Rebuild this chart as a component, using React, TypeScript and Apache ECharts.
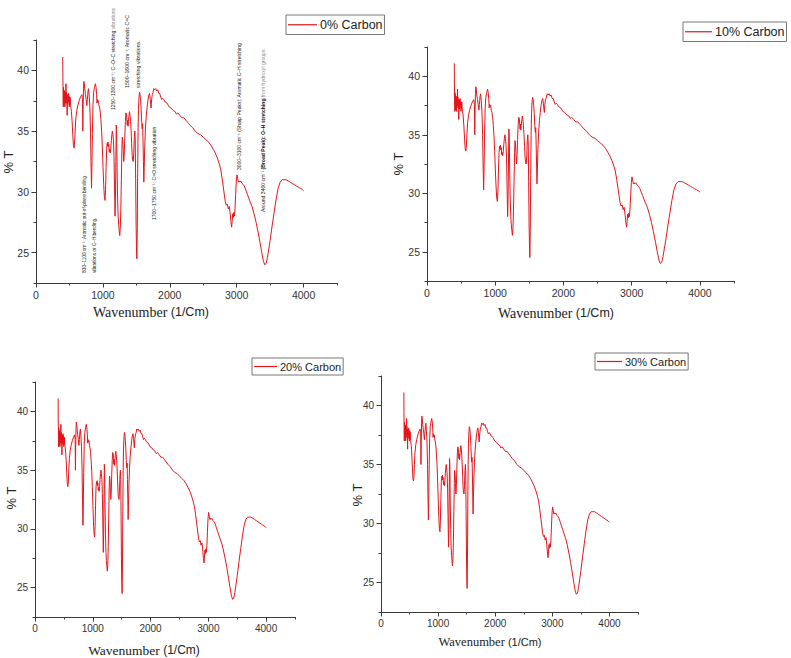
import { useEffect, useRef } from 'react';
import * as echarts from 'echarts';

// FTIR spectrum: wavenumber (1/cm) and transmittance (%T)
const wavenumber = [
  400, 402, 405, 408, 411, 414, 417, 420, 423, 426, 429, 432, 435, 438, 441, 444, 448, 451, 454, 457,
  460, 463, 466, 469, 472, 475, 478, 481, 485, 489, 493, 497, 501, 505, 510, 515, 520, 530, 540, 550,
  560, 568, 576, 585, 595, 610, 625, 645, 665, 685, 695, 700, 704, 710, 716, 722, 730, 740, 750, 760,
  768, 778, 786, 795, 805, 815, 822, 830, 836, 843, 852, 862, 875, 888, 898, 906, 912, 918, 926, 934,
  942, 952, 962, 972, 982, 992, 1002, 1012, 1022, 1032, 1040, 1048, 1056, 1064, 1070, 1076, 1082, 1088, 1095, 1102,
  1110, 1118, 1126, 1134, 1142, 1150, 1158, 1166, 1174, 1182, 1188, 1194, 1200, 1206, 1212, 1220, 1228, 1236, 1244, 1252,
  1260, 1268, 1276, 1284, 1290, 1297, 1304, 1312, 1320, 1328, 1336, 1344, 1352, 1358, 1364, 1370, 1376, 1382, 1390, 1398,
  1406, 1414, 1422, 1430, 1438, 1446, 1454, 1462, 1470, 1478, 1484, 1490, 1496, 1502, 1508, 1514, 1520, 1526, 1532, 1540,
  1548, 1556, 1564, 1572, 1580, 1588, 1594, 1600, 1606, 1612, 1618, 1626, 1636, 1648, 1660, 1672, 1684, 1696, 1706, 1714,
  1720, 1728, 1738, 1750, 1762, 1775, 1790, 1805, 1820, 1835, 1850, 1865, 1880, 1895, 1910, 1930, 1960, 1990, 2020, 2050,
  2080, 2100, 2120, 2150, 2180, 2210, 2240, 2270, 2300, 2340, 2380, 2420, 2460, 2500, 2540, 2580, 2620, 2650, 2680, 2710,
  2740, 2760, 2780, 2800, 2815, 2830, 2845, 2860, 2875, 2890, 2905, 2915, 2925, 2933, 2941, 2950, 2958, 2966, 2975, 2985,
  2995, 3005, 3015, 3025, 3035, 3045, 3060, 3080, 3100, 3120, 3140, 3160, 3180, 3200, 3230, 3260, 3290, 3320, 3350, 3375,
  3400, 3420, 3440, 3460, 3480, 3500, 3530, 3560, 3590, 3620, 3650, 3680, 3710, 3740, 3770, 3800, 3830, 3860, 3890, 3920,
  3950, 3980, 4000,
];

const transmittance = [
  41.1, 39.4, 38.2, 37.0, 38.6, 37.4, 38.4, 37.1, 38.0, 37.6, 38.3, 37.0, 37.9, 37.3, 38.1, 37.5, 38.9, 37.8, 38.2, 37.3,
  38.0, 37.4, 36.3, 37.6, 38.0, 37.2, 37.9, 37.6, 38.1, 37.4, 37.9, 37.0, 37.7, 37.2, 37.8, 37.3, 37.0, 36.6, 35.8, 34.7,
  33.8, 33.6, 33.9, 35.0, 36.0, 36.7, 37.1, 37.5, 37.8, 38.0, 37.6, 35.0, 36.8, 38.5, 39.1, 38.9, 38.4, 38.0, 37.6, 37.1,
  37.6, 38.3, 38.5, 37.9, 37.0, 35.0, 32.5, 30.3, 32.0, 34.8, 37.2, 38.2, 38.6, 38.9, 38.6, 38.0, 37.3, 37.6, 37.4, 37.5,
  37.1, 36.9, 36.5, 35.8, 34.9, 33.6, 32.0, 30.6, 29.6, 29.3, 30.2, 32.0, 33.5, 34.0, 33.8, 34.1, 33.7, 33.9, 33.3, 33.5,
  33.2, 33.6, 34.2, 34.7, 35.0, 34.7, 34.2, 33.0, 30.5, 28.0, 29.5, 32.5, 35.5, 34.8, 32.0, 29.5, 28.0, 27.3, 26.8, 26.4,
  27.0, 28.5, 31.0, 33.5, 34.5, 34.2, 33.4, 32.5, 33.2, 34.6, 35.8, 36.5, 36.4, 36.0, 35.5, 35.9, 35.4, 35.8, 36.3, 36.6,
  36.3, 35.8, 35.0, 34.0, 33.0, 32.6, 32.5, 33.2, 34.5, 35.0, 34.2, 31.0, 27.5, 25.5, 24.5, 27.0, 31.5, 35.0, 36.8, 37.8,
  38.2, 38.0, 37.5, 36.8, 35.8, 35.2, 35.6, 34.2, 32.5, 30.8, 32.0, 33.8, 35.2, 36.2, 36.9, 37.5, 37.9, 38.1, 37.7, 37.2,
  36.9, 37.6, 38.0, 38.2, 38.5, 38.4, 38.5, 38.3, 38.4, 38.1, 38.1, 37.8, 37.6, 37.7, 37.6, 37.4, 37.3, 37.0, 36.9, 36.7,
  36.6, 36.4, 36.5, 36.3, 36.1, 36.1, 35.9, 35.7, 35.5, 35.3, 35.0, 34.8, 34.7, 34.5, 34.3, 34.1, 33.8, 33.5, 33.2, 32.8,
  32.3, 31.9, 31.2, 30.4, 29.8, 29.2, 28.9, 29.0, 28.6, 28.8, 28.1, 27.5, 27.1, 27.6, 28.2, 27.9, 28.3, 28.0, 28.6, 29.8,
  30.9, 31.4, 31.1, 30.8, 30.9, 30.8, 30.9, 30.7, 30.6, 30.4, 30.1, 29.8, 29.5, 29.2, 28.8, 28.2, 27.5, 26.7, 25.8, 25.0,
  24.3, 24.0, 24.1, 24.6, 25.3, 26.0, 27.2, 28.3, 29.4, 30.3, 30.8, 31.0, 31.0, 31.0, 30.9, 30.8, 30.7, 30.6, 30.5, 30.4,
  30.3, 30.2, 30.1,
];

const carbonLevels = ['0% Carbon', '10% Carbon', '20% Carbon', '30% Carbon'];

const xMajorTicks = [0, 1000, 2000, 3000, 4000];
const xMinorTicks = [500, 1500, 2500, 3500, 4500];
const yMajorTicks = [25, 30, 35, 40];
const yMinorTicks = [22.5, 27.5, 32.5, 37.5, 42.5];
const xRange = [0, 4500];
const yRange = [22.5, 42.5];

// Band assignments written beside the 0% Carbon spectrum
const bandNotes = [
  { lines: [[{ t: '800–1100 cm⁻¹: Aromatic out-of-plane bending' }], [{ t: 'vibrations or C–H bending.' }]], x: 84, y: 273, dx: 10, size: 4.7 },
  { lines: [[{ t: '1250–1300 cm⁻¹: C–O–C stretching ' }, { t: 'vibrations', grey: true }]], x: 113, y: 110, dx: 0, size: 5 },
  { lines: [[{ t: '1500–1600 cm⁻¹: Aromatic C=C' }], [{ t: 'stretching vibrations.' }]], x: 127, y: 88, dx: 11, size: 5.2 },
  { lines: [[{ t: '1700–1750 cm⁻¹: C=O stretching vibration' }]], x: 154, y: 220, dx: 0, size: 5 },
  { lines: [[{ t: '3000–3100 cm⁻¹ (Sharp Peaks): Aromatic C–H stretching' }]], x: 239, y: 170, dx: 0, size: 5 },
  { lines: [[{ t: 'Around 3400 cm⁻¹ ' }, { t: '(Broad Peak): O–H stretching', bold: true }, { t: ' from hydroxyl groups.', grey: true }]], x: 263, y: 212, dx: 0, size: 5.1 },
];

const panels = [
  { grid: { left: 36, top: 40, width: 301, height: 243 }, legend: { left: 286, top: 15, size: 12.5, w: 29, pad: [2, 2, 2, 2] }, yTitle: [8, 162], xTitle: [151, 312], tick: 10.5, title: 14 },
  { grid: { left: 427, top: 47, width: 307, height: 234 }, legend: { left: 683, top: 22, size: 12.5, w: 27, pad: [2, 2, 2, 2] }, yTitle: [398, 164], xTitle: [556, 313], tick: 10.5, title: 14 },
  { grid: { left: 35, top: 382, width: 260, height: 235 }, legend: { left: 252, top: 358, size: 11, w: 23, pad: [1.5, 2, 1.5, 2] }, yTitle: [11, 498], xTitle: [144, 650], tick: 10, title: 13.5 },
  { grid: { left: 381, top: 376, width: 257, height: 236 }, legend: { left: 595, top: 353, size: 11, w: 25, pad: [1.5, 2, 1.5, 2] }, yTitle: [357, 495], xTitle: [490, 642], tick: 10, title: 12.5 },
];

const LINE_RED = '#e4161c';
const AXIS = '#3a3a3a';
const SANS = 'Liberation Sans, Arial, sans-serif';
const SERIF = 'Liberation Serif, Times New Roman, serif';

function buildOption() {
  const points = wavenumber.map((w, i) => [w, transmittance[i]]);
  const grids: any[] = [];
  const xAxes: any[] = [];
  const yAxes: any[] = [];
  const series: any[] = [];
  const legends: any[] = [];
  const graphics: any[] = [];
  const plain = (v: number) => String(v);

  panels.forEach((p, i) => {
    grids.push({ ...p.grid, containLabel: false });
    const labelStyle = { color: '#333', fontFamily: SANS, fontSize: p.tick, formatter: plain };
    xAxes.push(
      {
        type: 'value', gridIndex: i, position: 'bottom', min: xRange[0], max: xRange[1],
        axisLine: { lineStyle: { color: AXIS, width: 1 } },
        axisTick: { customValues: [...xMajorTicks], length: 4.5, lineStyle: { color: AXIS } },
        axisLabel: { customValues: [...xMajorTicks], margin: 6, ...labelStyle },
        splitLine: { show: false },
      },
      {
        type: 'value', gridIndex: i, position: 'bottom', min: xRange[0], max: xRange[1],
        axisLine: { show: false },
        axisTick: { customValues: [...xMinorTicks], length: 2.5, lineStyle: { color: AXIS } },
        axisLabel: { show: false },
        splitLine: { show: false },
      },
    );
    yAxes.push(
      {
        type: 'value', gridIndex: i, position: 'left', min: yRange[0], max: yRange[1],
        axisLine: { show: true, lineStyle: { color: AXIS, width: 1 } },
        axisTick: { show: true, customValues: [...yMajorTicks], length: 4.5, lineStyle: { color: AXIS } },
        axisLabel: { customValues: [...yMajorTicks], margin: 7, ...labelStyle },
        splitLine: { show: false },
      },
      {
        type: 'value', gridIndex: i, position: 'left', min: yRange[0], max: yRange[1],
        axisLine: { show: false },
        axisTick: { show: true, customValues: [...yMinorTicks], length: 2.5, lineStyle: { color: AXIS } },
        axisLabel: { show: false },
        splitLine: { show: false },
      },
    );
    series.push({
      type: 'line', name: carbonLevels[i], xAxisIndex: i * 2, yAxisIndex: i * 2,
      data: points, symbol: 'none', showSymbol: false, silent: true,
      lineStyle: { color: LINE_RED, width: 1 }, itemStyle: { color: LINE_RED },
    });
    legends.push({
      data: [{ name: carbonLevels[i], icon: 'rect' }], left: p.legend.left, top: p.legend.top,
      padding: p.legend.pad, itemWidth: p.legend.w, itemHeight: 1.2, itemGap: 0,
      borderColor: '#777', borderWidth: 1, borderRadius: 0, selectedMode: false,
      itemStyle: { color: LINE_RED, borderWidth: 0 },
      textStyle: { fontFamily: SANS, fontSize: p.legend.size, color: '#222', padding: [0, 0, 0, -2], lineHeight: p.legend.size + 3 },
    });
    graphics.push(
      {
        type: 'text', x: p.yTitle[0], y: p.yTitle[1], rotation: Math.PI / 2,
        style: { text: '% T', fontFamily: SANS, fontSize: 13, fill: '#222', align: 'center', verticalAlign: 'middle' },
      },
      {
        type: 'text', x: p.xTitle[0], y: p.xTitle[1],
        style: {
          text: '{a|Wavenumber }{b|(1/Cm)}', align: 'center', verticalAlign: 'middle',
          rich: {
            a: { fontFamily: SERIF, fontSize: p.title, fill: '#222' },
            b: { fontFamily: SANS, fontSize: p.title - 1.5, fill: '#222' },
          },
        },
      },
    );
  });

  bandNotes.forEach((note) => {
    note.lines.forEach((segs, li) => {
      const text = segs.map((s: any) => (s.grey ? `{g|${s.t}}` : s.bold ? `{b|${s.t}}` : `{n|${s.t}}`)).join('');
      graphics.push({
        type: 'text', x: note.x + li * note.dx, y: note.y, rotation: Math.PI / 2,
        style: {
          text, align: 'left', verticalAlign: 'middle',
          rich: {
            n: { fontFamily: SANS, fontSize: note.size, fill: '#222' },
            b: { fontFamily: SANS, fontSize: note.size, fill: '#111', fontWeight: 'bold' },
            g: { fontFamily: SANS, fontSize: note.size, fill: '#8a8a8a' },
          },
        },
      });
    });
  });

  return {
    animation: false,
    backgroundColor: '#ffffff',
    grid: grids,
    xAxis: xAxes,
    yAxis: yAxes,
    legend: legends,
    series,
    graphic: graphics,
  };
}

export default function App() {
  const ref = useRef<HTMLDivElement>(null);
  useEffect(() => {
    if (!ref.current) return;
    const chart = echarts.init(ref.current, undefined, { renderer: 'svg' });
    chart.setOption(buildOption() as any);
    return () => chart.dispose();
  }, []);
  return (
    <div
      ref={ref}
      style={{ position: 'absolute', left: 0, top: 0, width: 791, height: 658, background: '#fff' }}
    />
  );
}
